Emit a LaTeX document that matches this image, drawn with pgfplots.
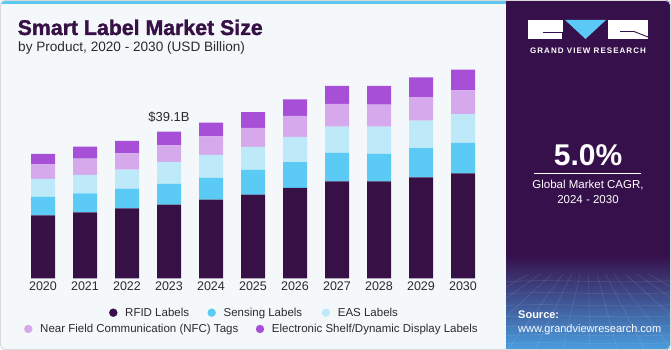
\documentclass[border=0pt]{standalone}
\usepackage{fontspec}
\setmainfont{Liberation Sans}
\newfontfamily\titlefont{Liberation Sans}[BoldFeatures={FakeBold=1.5}]
\newfontfamily\logofont{Liberation Sans}[LetterSpace=13]
\usepackage{pgfplots}
\pgfplotsset{compat=1.18}
\usepackage{pgfplotstable}

\definecolor{rfidc}{HTML}{371146}
\definecolor{sensc}{HTML}{5BCBF5}
\definecolor{easc}{HTML}{BDE9F9}
\definecolor{nfcc}{HTML}{D5A9EC}
\definecolor{eslc}{HTML}{A74FD6}
\definecolor{bgc}{HTML}{F4F8FB}
\definecolor{stripc}{HTML}{5BC8F0}
\definecolor{panelc}{HTML}{36104A}
\definecolor{gradm}{HTML}{41458F}
\definecolor{gradb}{HTML}{4A9EE0}
\definecolor{txtc}{HTML}{2B2B2B}
\definecolor{logob}{HTML}{5BC8F5}

\pgfplotstableread{
year rfid sens eas nfc esl
2020 16.80 4.90 4.80 3.90 2.75
2021 17.60 5.07 4.88 4.35 3.20
2022 18.67 5.25 5.07 4.35 3.30
2023 19.63 5.52 5.87 4.45 3.63
2024 20.96 5.79 6.13 4.99 3.63
2025 22.30 6.59 6.13 5.07 4.19
2026 24.08 6.93 6.67 5.60 4.45
2027 25.87 7.55 7.01 6.05 4.80
2028 25.87 7.28 7.28 5.87 4.99
2029 26.93 7.81 7.28 6.32 5.25
2030 28.00 8.08 7.73 6.32 5.49
}\datatable

\begin{document}
\begin{tikzpicture}[x=1pt,y=1pt]
\useasboundingbox (0,0) rectangle (671,350);
\fill[white] (0,0) rectangle (671,350);
\begin{scope}
\clip[rounded corners=5pt] (0,0) rectangle (671,350);
\fill[bgc] (0,0) rectangle (671,350);
\fill[stripc] (0,345.5) rectangle (506,350);
\fill[panelc] (506,0) rectangle (671,350);
\shade[top color=panelc, middle color=gradm, bottom color=gradb] (506,0) rectangle (671,95);
\begin{scope}
\clip (506,0) rectangle (671,75);
\begin{scope}[white, opacity=0.13, line width=0.5pt]
\foreach \yy in {6,14,23,33,44,56,68} {\draw (500,\yy) .. controls (560,\yy+4) and (620,\yy-3) .. (680,\yy+2);}
\foreach \xx in {380,420,460,500,530,560,590,620,650,680,720,760,800} {\draw (588,110) -- (\xx,-10);}
\end{scope}
\end{scope}
\end{scope}
\draw[gray!30, rounded corners=5pt, line width=0.8pt] (0.4,0.4) rectangle (670.6,349.6);

% Titles
\node[anchor=base west, inner sep=0, text=rfidc, font=\titlefont\bfseries\fontsize{21.3}{24}\selectfont] at (17.5,315) {Smart Label Market Size};
\node[anchor=base west, inner sep=0, text=txtc, font=\fontsize{13.6}{16}\selectfont] at (18,298) {by Product, 2020 - 2030 (USD Billion)};

% Logo
\fill[white] (528,311) rectangle (563,330);
\fill[logob] (565,330) -- (606,330) -- (585.5,311) -- cycle;
\fill[white] (608,311) rectangle (648,330);
\draw[panelc, line width=0.9pt] (543,317.7) -- (562,317.7) -- (562,311);
\draw[panelc, line width=0.9pt] (620,318.5) -- (634,318.5) -- (648,313);
\node[anchor=base, inner sep=0, text=white, font=\logofont\bfseries\fontsize{8}{9}\selectfont] at (588,296.7) {GRAND VIEW RESEARCH};

% Panel texts
\node[anchor=base, inner sep=0, text=white, font=\bfseries\fontsize{30}{34}\selectfont] at (588,184) {5.0\%};
\draw[white, line width=0.8pt] (534,176.7) -- (641,176.7);
\node[anchor=base, inner sep=0, text=white, font=\fontsize{11.5}{13}\selectfont] at (588,161) {Global Market CAGR,};
\node[anchor=base, inner sep=0, text=white, font=\fontsize{11.5}{13}\selectfont] at (588,146) {2024 - 2030};
\node[anchor=base west, inner sep=0, text=white, font=\bfseries\fontsize{11}{13}\selectfont] at (518,31) {Source:};
\node[anchor=base west, inner sep=0, text=white, font=\fontsize{11}{13}\selectfont] at (518,17) {www.grandviewresearch.com};

% Legend
\foreach \mx/\my/\col/\lab in {113.3/37.3/rfidc/{RFID Labels}, 211.7/37.3/sensc/{Sensing Labels}, 326/37.3/easc/{EAS Labels}, 28.3/21/nfcc/{Near Field Communication (NFC) Tags}, 260/21/eslc/{Electronic Shelf/Dynamic Display Labels}} {
  \fill[\col] (\mx,\my) circle (4.2);
  \node[anchor=base west, inner sep=0, text=txtc, font=\fontsize{11.5}{13}\selectfont] at (\mx+11.7,\my-4) {\lab};
}

\begin{axis}[
  at={(1pt,71.7pt)}, anchor=south west,
  scale only axis, width=504pt, height=225pt,
  xmin=2019, xmax=2031, ymin=0, ymax=60,
  ybar stacked, bar width=24pt,
  axis line style={draw=none},
  ytick=\empty,
  xtick={2020,...,2030},
  major tick length=0pt,
  xtick style={draw=none},
  /pgf/number format/assume math mode=true,
  /pgf/number format/1000 sep={},
  xticklabel style={font=\fontsize{12.5}{14}\selectfont, text=txtc, inner sep=0pt, anchor=north},
  xticklabel shift=3.7pt,
  clip=false,
]
\addplot[fill=rfidc, draw=none] table[x=year, y=rfid] {\datatable};
\addplot[fill=sensc, draw=none] table[x=year, y=sens] {\datatable};
\addplot[fill=easc, draw=none] table[x=year, y=eas] {\datatable};
\addplot[fill=nfcc, draw=none] table[x=year, y=nfc] {\datatable};
\addplot[fill=eslc, draw=none] table[x=year, y=esl] {\datatable};
\node[anchor=base, inner sep=0, yshift=9.7pt, text=txtc, font=\fontsize{13}{15}\selectfont] at (axis cs:2023,39.1) {\$39.1B};
\end{axis}
\end{tikzpicture}
\end{document}
